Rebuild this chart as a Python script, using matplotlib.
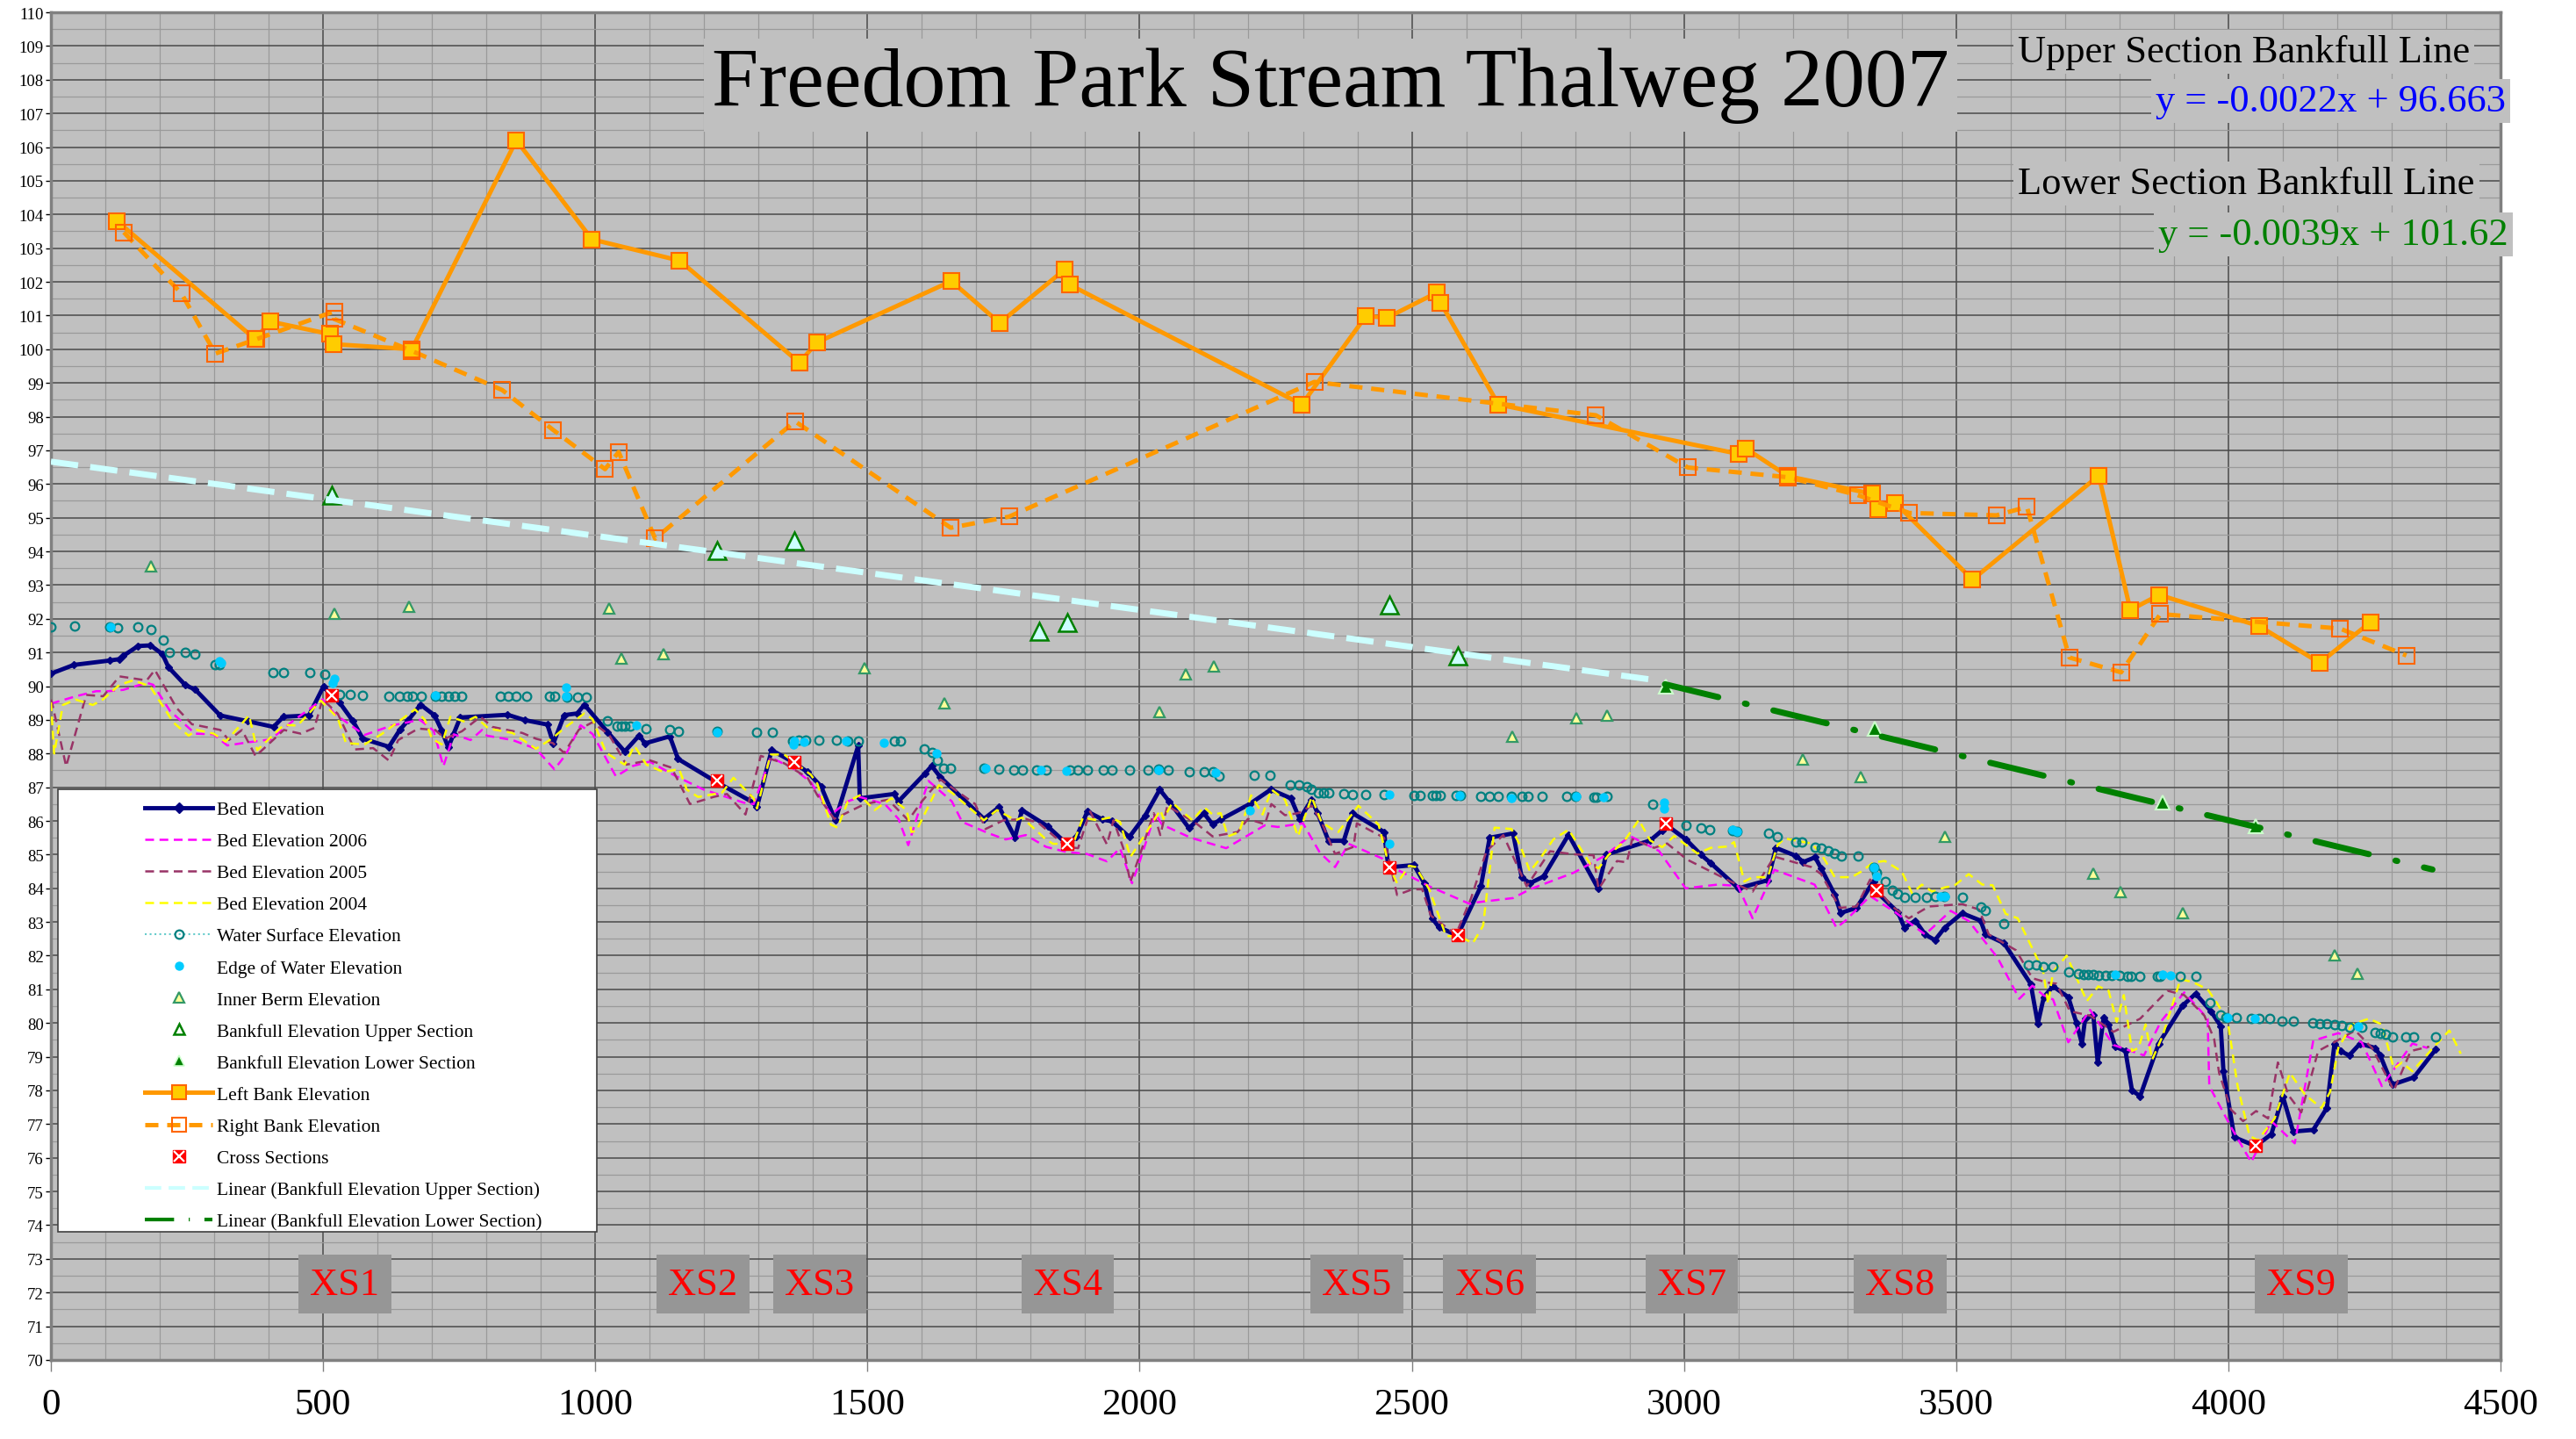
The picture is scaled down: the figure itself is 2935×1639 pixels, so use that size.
import matplotlib
matplotlib.use('Agg')
import matplotlib.pyplot as plt
from matplotlib.lines import Line2D
from matplotlib.patches import Rectangle
from matplotlib.legend_handler import HandlerTuple
import numpy as np

plt.rcParams['font.family'] = ['Liberation Serif', 'DejaVu Serif']

title = "Freedom Park Stream Thalweg 2007"

# ---------------- data ----------------
bed_x = [0, 42, 108, 125, 133, 160, 183, 205, 216, 247, 265, 311, 361, 409, 427, 474, 501, 515, 530, 555,
         573, 621, 641, 657, 679, 705, 718, 730, 740, 752, 839, 871, 912, 923, 943, 967, 980, 1023, 1054, 1081,
         1091, 1137, 1152, 1222, 1291, 1297, 1324, 1362, 1390, 1415, 1441, 1483, 1486, 1549, 1557, 1606, 1618,
         1634, 1714, 1742, 1771, 1784, 1831, 1866, 1884, 1904, 1932, 1949, 1981, 2010, 2037, 2054, 2091, 2118,
         2134, 2149, 2202, 2241, 2278, 2294, 2316, 2327, 2347, 2375, 2391, 2449, 2457, 2504, 2523, 2538, 2550,
         2584, 2627, 2643, 2686, 2702, 2717, 2742, 2788, 2842, 2857, 2938, 2960, 2966, 3003, 3031, 3049, 3100,
         3154, 3169, 3206, 3219, 3241, 3252, 3277, 3288, 3317, 3348, 3352, 3393, 3405, 3425, 3443, 3461, 3479,
         3511, 3545, 3554, 3588, 3637, 3650, 3661, 3678, 3706, 3721, 3731, 3737, 3752, 3760, 3771, 3780, 3792,
         3811, 3823, 3838, 3872, 3916, 3940, 3968, 3986, 3991, 4011, 4050, 4079, 4100, 4119, 4156, 4181, 4195,
         4206, 4222, 4242, 4270, 4279, 4301, 4341, 4381]
bed_y = [90.37, 90.63, 90.76, 90.8, 90.9, 91.19, 91.21, 90.95, 90.56, 90.03, 89.9, 89.13, 88.96, 88.79, 89.09,
         89.13, 90.0, 89.7, 89.52, 88.96, 88.44, 88.2, 88.7, 89.0, 89.45, 89.13, 88.68, 88.18, 88.59, 89.07,
         89.15, 88.99, 88.86, 88.3, 89.14, 89.19, 89.45, 88.63, 88.06, 88.54, 88.3, 88.51, 87.84, 87.16, 86.54,
         86.41, 88.1, 87.76, 87.45, 87.02, 86.02, 88.23, 86.67, 86.8, 86.58, 87.41, 87.63, 87.3, 86.06, 86.41,
         85.51, 86.32, 85.84, 85.32, 85.52, 86.28, 86.04, 85.99, 85.52, 86.15, 86.93, 86.58, 85.78, 86.23, 85.9,
         86.04, 86.5, 86.93, 86.67, 86.06, 86.63, 86.23, 85.41, 85.41, 86.23, 85.67, 84.62, 84.69, 84.15, 83.1,
         82.84, 82.6, 84.06, 85.5, 85.63, 84.32, 84.15, 84.35, 85.59, 84.0, 85.0, 85.42, 85.72, 85.9, 85.46,
         85.0, 84.75, 84.0, 84.24, 85.2, 84.96, 84.78, 84.92, 84.59, 83.81, 83.27, 83.42, 84.2, 83.92, 83.29,
         82.83, 83.04, 82.63, 82.46, 82.83, 83.26, 83.04, 82.63, 82.37, 81.16, 79.98, 80.77, 81.09, 80.77, 80.0,
         79.39, 80.13, 80.23, 78.83, 80.17, 79.96, 79.3, 79.17, 78.0, 77.83, 79.39, 80.52, 80.87, 80.35, 79.91,
         78.57, 76.61, 76.35, 76.7, 77.83, 76.78, 76.83, 77.48, 79.39, 79.17, 79.04, 79.39, 79.26, 79.04, 78.17,
         78.39, 79.22]

bed2006_x = [0, 46, 83, 105, 133, 176, 188, 219, 265, 299, 324, 361, 404, 441, 499, 521, 576, 626, 678, 703,
             721, 740, 771, 792, 801, 848, 891, 925, 946, 973, 995, 1038, 1069, 1100, 1149, 1199, 1273, 1291,
             1322, 1365, 1396, 1433, 1464, 1486, 1532, 1557, 1575, 1612, 1655, 1674, 1723, 1754, 1791, 1828,
             1865, 1903, 1940, 1964, 1986, 2001, 2029, 2041, 2094, 2159, 2230, 2254, 2300, 2331, 2359, 2384,
             2445, 2464, 2532, 2606, 2618, 2686, 2717, 2797, 2852, 2901, 2954, 3003, 3062, 3099, 3126, 3166,
             3240, 3280, 3296, 3342, 3388, 3443, 3490, 3523, 3576, 3616, 3640, 3660, 3678, 3706, 3746, 3789,
             3845, 3876, 3919, 3962, 3965, 4005, 4042, 4079, 4122, 4156, 4202, 4245, 4282, 4338, 4366]
bed2006_y = [89.48, 89.7, 89.85, 89.85, 89.89, 90.1, 90.04, 89.26, 88.59, 88.57, 88.24, 88.33, 88.42, 88.92,
             89.61, 89.18, 88.55, 88.83, 89.0, 88.68, 87.62, 88.57, 88.4, 88.7, 88.53, 88.4, 88.14, 87.53, 87.97,
             88.84, 88.58, 87.32, 87.63, 87.76, 87.32, 86.93, 86.54, 86.5, 87.89, 87.54, 87.15, 86.19, 86.58,
             86.71, 86.5, 86.06, 85.28, 87.19, 86.58, 85.97, 85.63, 85.45, 85.58, 85.23, 85.08, 85.02, 84.8,
             85.19, 84.15, 84.84, 86.23, 85.89, 85.5, 85.19, 85.87, 85.82, 85.93, 85.06, 84.63, 85.32, 84.89,
             84.63, 84.06, 83.54, 83.58, 83.71, 83.97, 84.46, 84.94, 85.55, 85.11, 84.0, 84.11, 84.07, 83.11,
             84.55, 84.11, 82.83, 83.03, 83.77, 83.29, 82.63, 83.33, 83.03, 81.94, 80.72, 81.11, 80.83, 80.7,
             79.43, 80.39, 79.35, 79.04, 80.04, 80.91, 80.13, 78.13, 76.91, 75.87, 77.09, 76.43, 79.48, 79.7,
             79.43, 78.13, 79.39, 79.26]

bed2005_x = [0, 3, 28, 65, 96, 126, 176, 191, 231, 259, 311, 327, 351, 376, 428, 459, 484, 499, 527, 558, 592,
             621, 638, 675, 706, 724, 755, 789, 811, 866, 891, 922, 943, 970, 995, 1026, 1057, 1100, 1140, 1174,
             1217, 1242, 1276, 1304, 1347, 1390, 1408, 1439, 1495, 1538, 1575, 1600, 1634, 1698, 1717, 1750, 1791,
             1815, 1866, 1887, 1909, 1940, 1952, 1970, 1983, 2001, 2026, 2038, 2051, 2106, 2134, 2180, 2199, 2230,
             2242, 2267, 2291, 2316, 2334, 2359, 2393, 2399, 2449, 2473, 2501, 2519, 2535, 2581, 2609, 2637, 2668,
             2711, 2754, 2797, 2834, 2843, 2877, 2895, 2905, 2945, 2969, 3006, 3086, 3126, 3166, 3234, 3252, 3286,
             3317, 3342, 3382, 3413, 3450, 3511, 3542, 3560, 3610, 3640, 3668, 3684, 3709, 3746, 3789, 3838, 3888,
             3919, 3956, 3974, 3983, 4005, 4027, 4051, 4073, 4091, 4110, 4134, 4165, 4190, 4233, 4264, 4304, 4335,
             4369]
bed2005_y = [89.6, 89.44, 87.62, 89.74, 89.7, 90.29, 90.17, 90.48, 89.35, 88.87, 88.7, 88.4, 88.7, 87.92, 88.7,
             88.59, 88.76, 89.61, 89.18, 88.12, 88.16, 87.79, 88.4, 88.74, 88.7, 88.44, 88.66, 89.09, 88.79, 88.61,
             88.44, 88.31, 88.02, 88.71, 88.93, 88.54, 87.67, 87.8, 87.58, 86.5, 86.71, 86.8, 86.19, 87.93, 87.71,
             87.28, 86.76, 86.06, 86.5, 86.63, 86.02, 86.58, 87.23, 86.5, 85.76, 86.02, 86.06, 85.93, 85.23, 85.19,
             86.28, 85.3, 86.02, 85.19, 84.19, 85.02, 86.23, 85.58, 86.45, 85.9, 85.54, 85.67, 86.06, 85.9, 86.5,
             86.17, 86.23, 86.45, 85.97, 85.02, 85.23, 85.93, 85.5, 83.8, 83.97, 83.97, 83.19, 82.63, 83.71, 85.1,
             85.58, 84.06, 85.1, 85.01, 84.98, 83.98, 84.81, 84.77, 85.46, 85.2, 85.33, 84.85, 84.2, 83.9, 84.94,
             84.63, 84.42, 83.42, 83.46, 84.26, 83.46, 83.11, 83.46, 83.53, 83.37, 82.63, 82.16, 81.33, 81.2,
             81.17, 80.35, 80.22, 79.74, 80.13, 80.96, 80.83, 80.22, 79.52, 78.52, 77.43, 77.09, 77.39, 77.17,
             78.83, 77.87, 77.35, 79.17, 79.39, 79.78, 79.26, 78.0, 79.17, 79.3]

bed2004_x = [0, 6, 22, 46, 77, 96, 126, 151, 182, 225, 253, 268, 299, 321, 364, 379, 428, 453, 496, 527, 542,
             576, 607, 669, 687, 700, 718, 734, 761, 780, 804, 848, 891, 921, 946, 980, 995, 1020, 1054, 1072,
             1094, 1125, 1154, 1168, 1189, 1233, 1254, 1291, 1297, 1322, 1347, 1396, 1408, 1433, 1445, 1464, 1486,
             1513, 1544, 1572, 1581, 1590, 1631, 1655, 1714, 1738, 1772, 1784, 1828, 1841, 1878, 1896, 1921, 1946,
             1964, 1983, 2001, 2038, 2044, 2060, 2097, 2118, 2134, 2149, 2162, 2183, 2205, 2226, 2242, 2267, 2291,
             2316, 2334, 2353, 2365, 2402, 2439, 2458, 2473, 2495, 2507, 2532, 2563, 2587, 2612, 2631, 2652, 2683,
             2699, 2717, 2736, 2760, 2788, 2828, 2843, 2861, 2889, 2917, 2938, 2960, 2982, 3025, 3049, 3080, 3092,
             3111, 3126, 3154, 3172, 3185, 3234, 3252, 3277, 3308, 3326, 3348, 3369, 3400, 3419, 3437, 3456, 3480,
             3496, 3523, 3548, 3567, 3591, 3613, 3647, 3660, 3669, 3678, 3703, 3740, 3761, 3780, 3795, 3808, 3823,
             3835, 3848, 3860, 3879, 3912, 3934, 3962, 3980, 3999, 4017, 4039, 4054, 4085, 4113, 4141, 4171, 4187,
             4202, 4227, 4258, 4282, 4304, 4319, 4338, 4378, 4406, 4427]
bed2004_y = [89.52, 88.0, 89.44, 89.6, 89.44, 89.61, 90.04, 90.17, 90.0, 88.92, 88.53, 88.7, 88.59, 88.35, 89.13,
             88.1, 88.85, 88.83, 89.57, 89.05, 88.31, 88.27, 88.57, 89.31, 89.0, 88.44, 88.27, 89.09, 88.94, 89.09,
             88.74, 88.61, 88.14, 88.45, 88.79, 89.19, 89.02, 88.02, 87.67, 88.23, 87.67, 87.45, 87.54, 86.93,
             86.71, 86.84, 87.28, 86.67, 86.37, 87.97, 87.97, 87.37, 87.1, 85.89, 85.8, 86.58, 86.76, 86.32, 86.67,
             86.32, 85.67, 85.71, 87.06, 86.84, 86.02, 86.32, 86.02, 86.1, 85.45, 85.32, 85.32, 86.1, 86.02, 86.1,
             85.97, 84.93, 85.37, 86.32, 86.06, 86.54, 86.02, 86.41, 86.19, 86.23, 85.54, 85.67, 86.76, 86.19,
             86.93, 86.63, 85.54, 86.71, 85.97, 85.76, 85.67, 86.45, 85.89, 84.67, 84.15, 84.67, 84.63, 83.97,
             82.58, 82.58, 82.37, 82.89, 85.8, 85.76, 85.28, 84.5, 84.89, 85.45, 85.74, 84.72, 84.59, 84.98, 85.37,
             86.03, 85.42, 85.22, 85.55, 85.03, 85.2, 85.24, 85.37, 84.2, 84.33, 84.33, 85.29, 85.48, 85.33, 85.03,
             84.33, 84.33, 84.5, 84.77, 84.81, 84.5, 83.85, 84.11, 83.9, 84.03, 84.07, 84.42, 84.11, 84.09, 83.24,
             83.11, 81.98, 81.52, 80.57, 81.52, 82.0, 80.65, 81.09, 80.96, 80.04, 80.83, 79.17, 79.26, 79.96, 78.91,
             79.61, 81.3, 81.22, 81.0, 80.57, 80.04, 78.13, 76.65, 76.52, 77.17, 78.52, 77.87, 77.48, 77.96, 79.26,
             79.96, 80.13, 79.96, 78.65, 78.83, 78.57, 79.3, 79.78, 79.09]

water_x = [0, 43, 108, 123, 159, 184, 206, 218, 247, 264, 301, 310, 408, 428, 475, 503, 531, 550, 573, 621, 640,
           655, 665, 680, 706, 718, 730, 742, 754, 826, 840, 855, 874, 915, 925, 948, 967, 983, 1022, 1040, 1048,
           1055, 1064, 1093, 1136, 1153, 1223, 1297, 1325, 1362, 1374, 1386, 1410, 1443, 1464, 1484, 1550, 1560,
           1605, 1618, 1629, 1640, 1652, 1714, 1742, 1769, 1785, 1810, 1828, 1872, 1887, 1904, 1933, 1950, 1981,
           2015, 2035, 2052, 2091, 2118, 2134, 2146, 2210, 2239, 2277, 2292, 2307, 2316, 2328, 2338, 2347, 2375,
           2391, 2416, 2449, 2504, 2516, 2538, 2545, 2553, 2581, 2590, 2627, 2643, 2658, 2683, 2702, 2714, 2739,
           2785, 2800, 2834, 2840, 2858, 2943, 3003, 3031, 3048, 3089, 3098, 3155, 3171, 3206, 3217, 3241, 3252,
           3265, 3277, 3289, 3320, 3348, 3354, 3369, 3382, 3393, 3406, 3425, 3445, 3462, 3477, 3511, 3545, 3554,
           3588, 3633, 3647, 3660, 3677, 3706, 3724, 3734, 3743, 3752, 3761, 3774, 3786, 3801, 3814, 3821, 3838,
           3869, 3875, 3912, 3940, 3966, 3986, 3996, 4014, 4042, 4057, 4076, 4099, 4120, 4155, 4168, 4181, 4195,
           4208, 4222, 4245, 4270, 4279, 4289, 4301, 4326, 4341, 4381]
water_y = [91.77, 91.78, 91.77, 91.72, 91.77, 91.67, 91.38, 91.0, 91.0, 90.95, 90.65, 90.65, 90.41, 90.41, 90.41,
           90.35, 89.75, 89.75, 89.72, 89.7, 89.7, 89.7, 89.7, 89.7, 89.7, 89.7, 89.7, 89.7, 89.7, 89.7, 89.7,
           89.7, 89.7, 89.7, 89.7, 89.67, 89.67, 89.67, 88.97, 88.82, 88.82, 88.82, 88.82, 88.74, 88.7, 88.67,
           88.67, 88.62, 88.62, 88.37, 88.39, 88.4, 88.4, 88.4, 88.37, 88.37, 88.37, 88.37, 88.13, 88.04, 87.8,
           87.56, 87.56, 87.57, 87.55, 87.52, 87.51, 87.52, 87.51, 87.5, 87.5, 87.5, 87.51, 87.51, 87.51, 87.51,
           87.54, 87.51, 87.45, 87.45, 87.45, 87.32, 87.35, 87.35, 87.06, 87.06, 87.02, 86.93, 86.83, 86.83,
           86.83, 86.82, 86.79, 86.78, 86.78, 86.76, 86.76, 86.76, 86.76, 86.76, 86.76, 86.76, 86.74, 86.74,
           86.74, 86.74, 86.74, 86.74, 86.74, 86.74, 86.72, 86.7, 86.7, 86.72, 86.49, 85.88, 85.79, 85.74, 85.72,
           85.68, 85.63, 85.53, 85.37, 85.37, 85.23, 85.18, 85.11, 85.04, 84.97, 84.96, 84.63, 84.46, 84.2,
           83.94, 83.83, 83.74, 83.72, 83.72, 83.75, 83.77, 83.74, 83.44, 83.33, 82.96, 81.72, 81.72, 81.68,
           81.68, 81.52, 81.46, 81.43, 81.43, 81.43, 81.42, 81.41, 81.41, 81.41, 81.39, 81.39, 81.39, 81.39,
           81.39, 81.39, 81.39, 80.61, 80.23, 80.17, 80.17, 80.13, 80.13, 80.13, 80.07, 80.07, 80.0, 79.98, 79.98,
           79.96, 79.94, 79.87, 79.87, 79.71, 79.7, 79.68, 79.59, 79.59, 79.59, 79.59]

edge_x = [110, 310, 313, 518, 520, 706, 947, 947, 1076, 1223, 1364, 1365, 1384, 1461, 1530, 1627, 1717, 1819,
          1865, 2035, 2140, 2202, 2458, 2458, 2587, 2683, 2802, 2852, 2964, 2964, 3089, 3098, 3348, 3353, 3471,
          3479, 3792, 3880, 3894, 3998, 4048, 4238]
edge_y = [91.77, 90.75, 90.68, 90.08, 90.23, 89.73, 89.97, 89.7, 88.83, 88.64, 88.28, 88.37, 88.34, 88.37, 88.32,
          88.0, 87.57, 87.5, 87.48, 87.52, 87.43, 86.32, 86.78, 85.32, 86.76, 86.67, 86.72, 86.7, 86.55, 86.37,
          85.74, 85.68, 84.63, 84.35, 83.77, 83.77, 81.43, 81.43, 81.42, 80.16, 80.13, 79.89]

berm_x = [184, 521, 658, 1026, 1048, 1126, 1494, 1642, 2037, 2085, 2136, 2684, 2803, 2859, 3219, 3324, 3480,
          3752, 3802, 3916, 4196, 4237]
berm_y = [93.57, 92.15, 92.35, 92.3, 90.81, 90.96, 90.54, 89.49, 89.24, 90.36, 90.58, 88.49, 89.04, 89.13, 87.82,
          87.3, 85.53, 84.43, 83.89, 83.26, 82.01, 81.47]

bf_upper_x = [516, 1224, 1365, 1816, 1867, 2458, 2585]
bf_upper_y = [95.67, 94.02, 94.32, 91.63, 91.9, 92.41, 90.89]

bf_lower_x = [2967, 3351, 3880, 4050]
bf_lower_y = [89.99, 88.73, 86.54, 85.84]

left_x = [121, 375, 403, 512, 519, 663, 855, 994, 1155, 1375, 1407, 1654, 1743, 1862, 1872, 2298, 2416, 2454,
          2546, 2553, 2659, 3101, 3113, 3191, 3345, 3357, 3388, 3530, 3762, 3820, 3873, 4057, 4168, 4261]
left_y = [103.81, 100.3, 100.82, 100.45, 100.15, 100.0, 106.2, 103.26, 102.63, 99.6, 100.2, 102.02, 100.78, 102.36,
          101.91, 98.36, 100.99, 100.93, 101.68, 101.38, 98.36, 96.89, 97.06, 96.23, 95.71, 95.26, 95.44, 93.16,
          96.25, 92.26, 92.71, 91.78, 90.69, 91.9]

right_x = [134, 240, 302, 378, 520, 520, 663, 829, 923, 1018, 1043, 1110, 1367, 1653, 1760, 2321, 2838, 3007,
           3191, 3319, 3414, 3574, 3630, 3708, 3803, 3875, 4205, 4327]
right_y = [103.47, 101.65, 99.87, 100.3, 101.12, 100.9, 99.95, 98.79, 97.6, 96.44, 96.95, 94.38, 97.86, 94.7,
           95.03, 99.03, 98.04, 96.49, 96.2, 95.67, 95.14, 95.07, 95.32, 90.85, 90.41, 92.14, 91.71, 90.91]

xs_x = [516, 1224, 1365, 1867, 2458, 2585, 2966, 3353, 4050]
xs_y = [89.73, 87.2, 87.75, 85.32, 84.63, 82.62, 85.92, 83.93, 76.37]

xs_labels = ["XS1", "XS2", "XS3", "XS4", "XS5", "XS6", "XS7", "XS8", "XS9"]
xs_label_x = [540, 1198, 1412, 1868, 2399, 2643, 3014, 3397, 4134]

upper_slope, upper_intercept = -0.0022, 96.663
lower_slope, lower_intercept = -0.0039, 101.62
upper_range = [0, 2955]
lower_range = [2965, 4375]

# ---------------- figure ----------------
fig = plt.figure(figsize=(29.35, 16.4), dpi=100)
ax = fig.add_axes([0.01976, 0.05488, 0.95094, 0.93597])
ax.set_facecolor('#c0c0c0')
ax.set_xlim(0, 4500)
ax.set_ylim(70, 110)
ax.set_xticks(np.arange(0, 4501, 500))
ax.set_xticks(np.arange(0, 4501, 100), minor=True)
ax.set_yticks(np.arange(70, 111, 1))
ax.set_yticks(np.arange(70, 110.01, 0.5), minor=True)
ax.grid(which='major', color='#4a4a4a', lw=1.1)
ax.grid(which='minor', color='#9a9a9a', lw=0.9)
ax.set_axisbelow(True)
ax.tick_params(axis='x', which='major', labelsize=31, length=9, width=1, color='#808080', pad=14)
ax.tick_params(axis='x', which='minor', length=0)
ax.tick_params(axis='y', which='major', labelsize=13.5, length=4, width=1, pad=2)
ax.tick_params(axis='y', which='minor', length=0)
for s in ax.spines.values():
    s.set_color('#808080')
    s.set_linewidth(2.5)

z = 3
ax.plot(bed_x, bed_y, color='#000080', lw=3.5, marker='D', ms=4.5, zorder=z)
ax.plot(bed2006_x, bed2006_y, color='#ff00ff', lw=1.8, ls=(0, (4, 2.5)), zorder=z + 1)
ax.plot(bed2005_x, bed2005_y, color='#993366', lw=1.8, ls=(0, (4, 2.5)), zorder=z + 2)
ax.plot(bed2004_x, bed2004_y, color='#ffff00', lw=1.8, ls=(0, (4, 2.5)), zorder=z + 3)
ax.plot(water_x, water_y, ls='none', marker='o', ms=7, mfc='none', mec='#008080', mew=1.6, zorder=z + 4)
ax.plot(edge_x, edge_y, ls='none', marker='o', ms=6.5, mfc='#00ccff', mec='#00ccff', zorder=z + 5)
ax.plot(berm_x, berm_y, ls='none', marker='^', ms=9, mfc='#ffff99', mec='#339966', mew=1.6, zorder=z + 6)
ax.plot(bf_upper_x, bf_upper_y, ls='none', marker='^', ms=14, mfc='#ccffff', mec='#008000', mew=1.8,
        zorder=z + 7)
ax.plot(bf_lower_x, bf_lower_y, ls='none', marker='^', ms=11, mfc='#008000', mec='#ccffcc', mew=1.5,
        zorder=z + 8)
ax.plot(left_x, left_y, color='#ff9900', lw=3.6, marker='s', ms=12.5, mfc='#ffcc00', mec='#ff6600', mew=1.5,
        zorder=z + 9)
ax.plot(right_x, right_y, color='#ff9900', lw=3.6, ls=(0, (3, 2)), marker='s', ms=12.5, mfc='none',
        mec='#ff6600', mew=1.5, zorder=z + 10)
ax.plot(xs_x, xs_y, ls='none', marker='s', ms=10.5, mfc='#ff0000', mec='#ff0000', zorder=z + 11)
ax.plot(xs_x, xs_y, ls='none', marker='x', ms=8, mec='white', mew=1.6, zorder=z + 12)

ux = np.array(upper_range, dtype=float)
lx = np.array(lower_range, dtype=float)
ax.plot(ux, upper_slope * ux + upper_intercept, color='#ccffff', lw=5, ls=(0, (4.5, 2)),
        zorder=z + 13)
ax.plot(lx, lower_slope * lx + lower_intercept, color='#008000', lw=5, ls=(0, (9, 4.5, 0.3, 4.5)),
        dash_capstyle='round', zorder=z + 14)

# Title and equation labels
ax.text(0.5224, 0.946, title, transform=ax.transAxes, ha='center', va='center', fontsize=69,
        bbox=dict(boxstyle='square,pad=0.1', fc='#c0c0c0', ec='none'), zorder=20)
ax.text(0.8029, 0.9707, "Upper Section Bankfull Line", transform=ax.transAxes, ha='left', va='center',
        fontsize=32, bbox=dict(boxstyle='square,pad=0.12', fc='#c0c0c0', ec='none'), zorder=20)
ax.text(1.0021, 0.9342, "y = -0.0022x + 96.663", transform=ax.transAxes, ha='right', va='center',
        fontsize=32, color='#0000ff', bbox=dict(boxstyle='square,pad=0.12', fc='#c0c0c0', ec='none'), zorder=20)
ax.text(0.8029, 0.873, "Lower Section Bankfull Line", transform=ax.transAxes, ha='left', va='center',
        fontsize=32, bbox=dict(boxstyle='square,pad=0.12', fc='#c0c0c0', ec='none'), zorder=20)
ax.text(1.0032, 0.8352, "y = -0.0039x + 101.62", transform=ax.transAxes, ha='right', va='center',
        fontsize=32, color='#008000', bbox=dict(boxstyle='square,pad=0.12', fc='#c0c0c0', ec='none'), zorder=20)

# Cross-section labels
for lab, lx_ in zip(xs_labels, xs_label_x):
    ax.text(lx_, 72.25, lab, ha='center', va='center', fontsize=32, color='#ff0000',
            bbox=dict(boxstyle='square,pad=0.3', fc='#969696', ec='none'), zorder=20)

# Legend
ax.add_patch(Rectangle((0.0027, 0.0951), 0.22, 0.3284, transform=ax.transAxes, fc='white',
                       ec='#404040', lw=1.2, zorder=30))
xs_handle = (Line2D([], [], ls='none', marker='s', ms=10, mfc='#ff0000', mec='#ff0000'),
             Line2D([], [], ls='none', marker='x', ms=8, mec='white', mew=1.6))
handles = [
    Line2D([], [], color='#000080', lw=3.5, marker='D', ms=6),
    Line2D([], [], color='#ff00ff', lw=1.8, ls=(0, (4, 2.5))),
    Line2D([], [], color='#993366', lw=1.8, ls=(0, (4, 2.5))),
    Line2D([], [], color='#ffff00', lw=1.8, ls=(0, (4, 2.5))),
    Line2D([], [], color='#66cccc', lw=1.5, ls=':', marker='o', ms=7, mfc='none', mec='#008080', mew=1.6),
    Line2D([], [], ls='none', marker='o', ms=6.5, mfc='#00ccff', mec='#00ccff'),
    Line2D([], [], ls='none', marker='^', ms=9, mfc='#ffff99', mec='#339966', mew=1.6),
    Line2D([], [], ls='none', marker='^', ms=9, mfc='white', mec='#008000', mew=1.8),
    Line2D([], [], ls='none', marker='^', ms=8, mfc='#008000', mec='#ccffcc', mew=1.2),
    Line2D([], [], color='#ff9900', lw=3.6, marker='s', ms=11, mfc='#ffcc00', mec='#ff6600', mew=1.5),
    Line2D([], [], color='#ff9900', lw=3.6, ls=(0, (3, 2)), marker='s', ms=11, mfc='none', mec='#ff6600',
           mew=1.5),
    xs_handle,
    Line2D([], [], color='#ccffff', lw=3.0, ls=(0, (4.5, 2))),
    Line2D([], [], color='#008000', lw=3.0, ls=(0, (8, 4, 0.3, 4))),
]
labels = ["Bed Elevation", "Bed Elevation 2006", "Bed Elevation 2005", "Bed Elevation 2004",
          "Water Surface Elevation", "Edge of Water Elevation", "Inner Berm Elevation",
          "Bankfull Elevation Upper Section", "Bankfull Elevation Lower Section", "Left Bank Elevation",
          "Right Bank Elevation", "Cross Sections", "Linear (Bankfull Elevation Upper Section)",
          "Linear (Bankfull Elevation Lower Section)"]
leg = ax.legend(handles, labels, loc='upper left', bbox_to_anchor=(0.0383, 0.415), frameon=False,
                fontsize=15.5, handlelength=3.6, handletextpad=0.2, labelspacing=0.745, borderpad=0,
                borderaxespad=0, numpoints=1, handler_map={tuple: HandlerTuple(ndivide=1, pad=0)})
leg.set_zorder(31)

fig.savefig('out.png', dpi=100, facecolor='white')
